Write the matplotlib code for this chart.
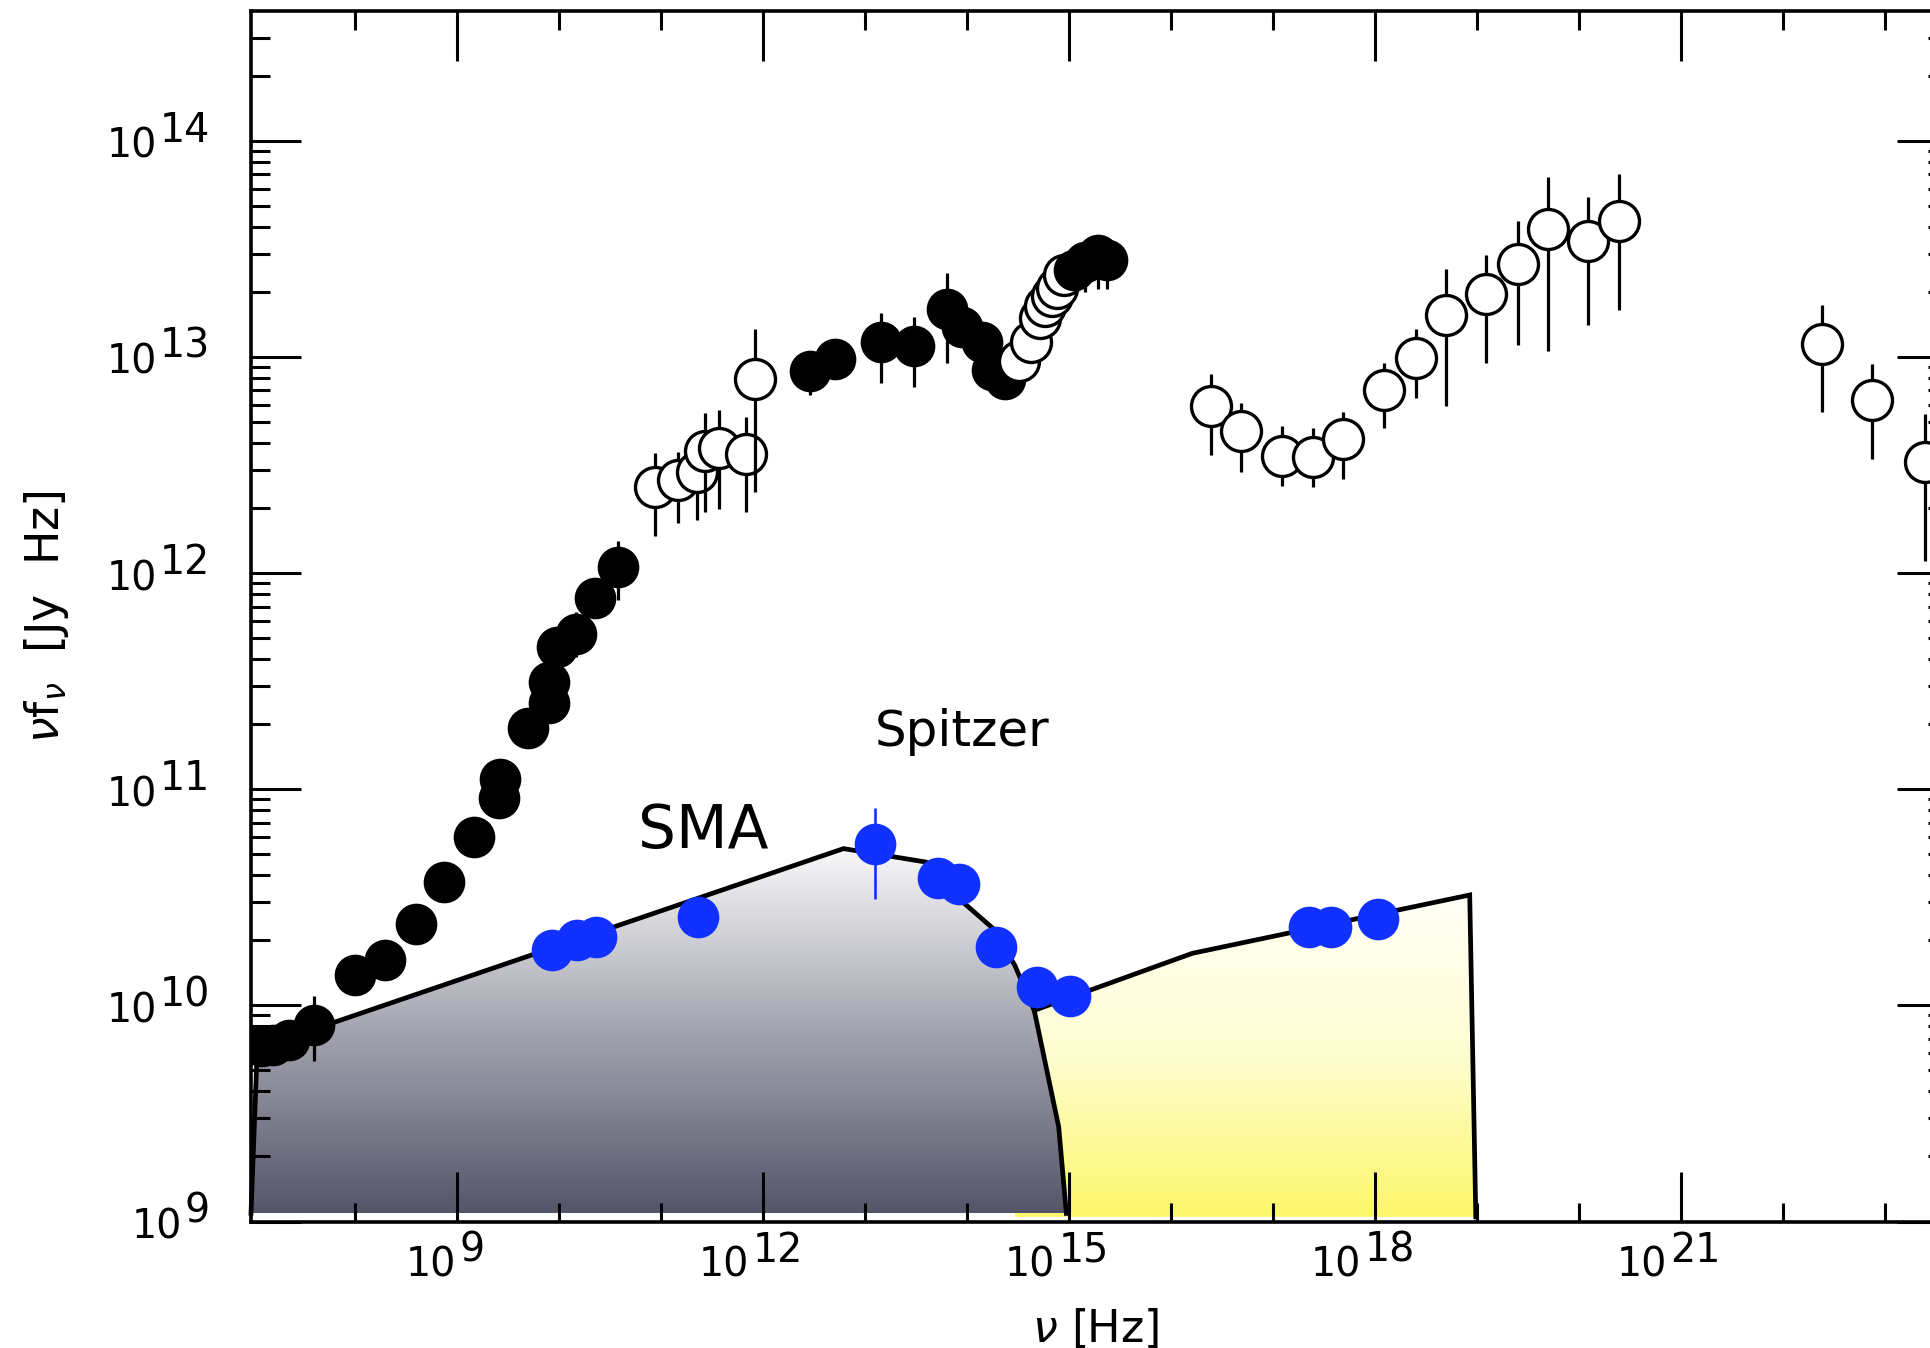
import numpy as np
import matplotlib
matplotlib.use("Agg")
import matplotlib.pyplot as plt
from matplotlib.patches import Polygon
from matplotlib.colors import LinearSegmentedColormap
from matplotlib.ticker import FixedLocator, NullFormatter, LogLocator

nan = np.nan

# ---------------- data (nu [Hz], nu f_nu [Jy Hz]) ----------------
radio_nu = [1.23e7, 1.58e7, 2.24e7, 3.98e7, 1.0e8, 1.95e8, 3.98e8, 7.41e8, 1.48e9,
            2.57e9, 2.63e9, 5.01e9, 8.04e9, 7.94e9, 9.55e9, 1.48e10, 2.24e10, 3.76e10]
radio_f = [6.46e9, 6.55e9, 6.92e9, 8.13e9, 1.38e10, 1.62e10, 2.37e10, 3.72e10, 6.03e10,
           9.12e10, 1.12e11, 1.91e11, 2.51e11, 3.13e11, 4.57e11, 5.25e11, 7.67e11, 1.07e12]
radio_lo = [nan, nan, nan, 5.52e9, nan, nan, nan, nan, nan,
            nan, nan, nan, nan, nan, nan, 4.07e11, nan, 7.53e11]
radio_hi = [nan, nan, nan, 1.11e10, nan, nan, nan, nan, nan,
            nan, nan, nan, nan, nan, nan, 6.6e11, nan, 1.40e12]

fir_nu = [8.81e10, 1.48e11, 2.24e11, 2.69e11, 3.67e11, 6.76e11, 8.41e11]
fir_f = [2.51e12, 2.69e12, 2.92e12, 3.67e12, 3.80e12, 3.55e12, 7.87e12]
fir_lo = [1.49e12, 1.71e12, 1.75e12, 1.91e12, 1.98e12, 1.91e12, 2.38e12]
fir_hi = [3.60e12, 3.63e12, 3.52e12, 5.50e12, 5.69e12, 5.25e12, 1.35e13]

mir_nu = [2.88e12, 5.13e12, 1.45e13, 3.02e13, 6.31e13, 8.91e13, 1.41e14, 1.76e14, 2.37e14]
mir_f = [8.61e12, 9.77e12, 1.175e13, 1.12e13, 1.66e13, 1.38e13, 1.175e13, 8.71e12, 7.94e12]
mir_lo = [6.68e12, nan, 7.59e12, 7.24e12, 9.33e12, nan, nan, nan, nan]
mir_hi = [1.0e13, nan, 1.60e13, 1.53e13, 2.45e13, nan, nan, nan, nan]

opt_nu = [3.24e14, 4.27e14, 5.25e14, 5.89e14, 6.76e14, 7.59e14, 8.91e14]
opt_f = [9.55e12, 1.175e13, 1.51e13, 1.72e13, 1.91e13, 2.09e13, 2.40e13]
opt_lo = [nan] * 7
opt_hi = [nan] * 7

uv_nu = [1.11e15, 1.45e15, 1.95e15, 2.34e15]
uv_f = [2.51e13, 2.75e13, 2.95e13, 2.82e13]
uv_lo = [2.03e13, 2.0e13, 2.05e13, 2.05e13]
uv_hi = [3.1e13, 3.4e13, 3.6e13, 3.4e13]

xray_nu = [2.45e16, 4.90e16, 1.23e17, 2.45e17, 4.90e17, 1.23e18, 2.51e18, 5.01e18,
           1.23e19, 2.51e19, 5.01e19, 1.24e20, 2.48e20]
xray_f = [5.93e12, 4.55e12, 3.48e12, 3.44e12, 4.17e12, 7.02e12, 9.91e12, 1.57e13,
          1.95e13, 2.69e13, 3.89e13, 3.43e13, 4.27e13]
xray_lo = [3.52e12, 2.92e12, 2.54e12, 2.49e12, 2.73e12, 4.68e12, 6.46e12, 5.93e12,
           9.40e12, 1.13e13, 1.07e13, 1.40e13, 1.65e13]
xray_hi = [8.32e12, 6.14e12, 4.79e12, 4.70e12, 5.58e12, 9.40e12, 1.34e13, 2.54e13,
           2.95e13, 4.25e13, 6.78e13, 5.50e13, 6.98e13]

gamma_nu = [2.45e22, 7.41e22, 2.48e23]
gamma_f = [1.15e13, 6.31e12, 3.28e12]
gamma_lo = [5.58e12, 3.37e12, 1.14e12]
gamma_hi = [1.73e13, 9.25e12, 5.43e12]

blue_nu = [8.51e9, 1.51e10, 2.29e10, 2.29e11, 1.26e13, 5.25e13, 8.32e13, 1.91e14,
           4.90e14, 1.02e15, 2.24e17, 3.72e17, 1.07e18]
blue_f = [1.80e10, 2.00e10, 2.07e10, 2.57e10, 5.60e10, 3.89e10, 3.66e10, 1.86e10,
          1.22e10, 1.10e10, 2.31e10, 2.31e10, 2.51e10]
blue_lo = [nan, nan, nan, nan, 3.09e10, nan, nan, nan, nan, nan, nan, nan, nan]
blue_hi = [nan, nan, nan, nan, 8.22e10, nan, nan, nan, nan, nan, nan, nan, nan]

# model SED envelopes (outline vertices)
gray_nu = [9.55e6, 1.10e7, 6.17e12, 3.98e13, 8.71e13, 1.82e14, 2.95e14, 4.57e14, 7.94e14, 9.44e14]
gray_f = [1.09e9, 6.31e9, 5.31e10, 4.60e10, 3.06e10, 2.26e10, 1.53e10, 9.48e9, 2.74e9, 1.09e9]
yellow_nu = [2.95e14, 4.57e14, 1.62e16, 8.51e18, 9.77e18]
yellow_f = [1.05e9, 9.48e9, 1.74e10, 3.24e10, 1.05e9]

# ticks
xmajor_vals = [1e9, 1e12, 1e15, 1e18, 1e21]
xmajor_exps = ["9", "12", "15", "18", "21"]
xminor_vals = [1e8, 1e10, 1e11, 1e13, 1e14, 1e16, 1e17, 1e19, 1e20, 1e22, 1e23]
ymajor_vals = [1e9, 1e10, 1e11, 1e12, 1e13, 1e14]
ymajor_exps = ["9", "10", "11", "12", "13", "14"]

annotations = [("SMA", 5.96e10, 5.32e10, 43), ("Spitzer", 1.26e13, 1.58e11, 36)]

# ---------------- figure ----------------
FONT = "DejaVu Sans"
plt.rcParams["font.family"] = [FONT]
plt.rcParams["mathtext.fontset"] = "dejavusans"

W, H, DPI = 1931, 1348, 100
fig = plt.figure(figsize=(W / DPI, H / DPI), dpi=DPI)
ax = fig.add_axes([251 / W, 1 - 1221.5 / H, (1947 - 251) / W, (1221.5 - 11) / H])
ax.set_xscale("log")
ax.set_yscale("log")
ax.set_xlim(10 ** 6.98, 10 ** 23.61)
ax.set_ylim(1e9, 10 ** 14.6)
ax.set_autoscale_on(False)

for s in ax.spines.values():
    s.set_linewidth(2.6)

ax.xaxis.set_major_locator(FixedLocator(xmajor_vals))
ax.xaxis.set_minor_locator(FixedLocator(xminor_vals))
ax.yaxis.set_major_locator(FixedLocator(ymajor_vals))
ax.yaxis.set_minor_locator(LogLocator(base=10, subs=np.arange(2, 10), numticks=50))
for a in (ax.xaxis, ax.yaxis):
    a.set_major_formatter(NullFormatter())
    a.set_minor_formatter(NullFormatter())
ax.tick_params(which="both", direction="in", top=True, right=True,
               labelbottom=False, labelleft=False, width=2.2, color="k")
ax.tick_params(which="major", length=36)
ax.tick_params(which="minor", length=13.5)


def gradient_fill(nu, f, colors, z):
    verts = np.column_stack([nu, f])
    poly = Polygon(verts, closed=True, facecolor="none", edgecolor="none",
                   transform=ax.transData, zorder=z)
    ax.add_patch(poly)
    pts = ax.transAxes.inverted().transform(ax.transData.transform(verts))
    x0, y0 = pts.min(axis=0)
    x1, y1 = pts.max(axis=0)
    cmap = LinearSegmentedColormap.from_list("g", colors)
    grad = np.linspace(0, 1, 256).reshape(-1, 1)
    im = ax.imshow(grad, cmap=cmap, aspect="auto", origin="lower",
                   extent=[x0, x1, y0, y1], transform=ax.transAxes,
                   zorder=z, interpolation="bilinear")
    im.set_clip_path(poly)


gradient_fill(yellow_nu, yellow_f, ["#fcf76a", "#fefdd0", "#fffff6"], 1.0)
gradient_fill(gray_nu, gray_f, ["#55556a", "#a4a4b0", "#f8f8f9"], 1.1)
ax.plot(yellow_nu[1:], yellow_f[1:], color="k", lw=3.4, zorder=2, solid_joinstyle="miter")
ax.plot(gray_nu, gray_f, color="k", lw=3.4, zorder=2.1, clip_on=False, solid_joinstyle="miter")

# data points, drawn in frequency order (error bar then marker)
groups = [
    (radio_nu, radio_f, radio_lo, radio_hi, "filled"),
    (fir_nu, fir_f, fir_lo, fir_hi, "open"),
    (mir_nu, mir_f, mir_lo, mir_hi, "filled"),
    (opt_nu, opt_f, opt_lo, opt_hi, "open"),
    (uv_nu, uv_f, uv_lo, uv_hi, "filled"),
    (xray_nu, xray_f, xray_lo, xray_hi, "open"),
    (gamma_nu, gamma_f, gamma_lo, gamma_hi, "open"),
]
k = 0
for nu, f, lo, hi, kind in groups:
    for i in range(len(nu)):
        z = 3 + 0.001 * k
        if not np.isnan(lo[i]):
            ax.vlines(nu[i], lo[i], hi[i], colors="k", lw=2.3, zorder=z)
        if kind == "filled":
            ax.plot([nu[i]], [f[i]], "o", ms=30, mfc="k", mec="k", mew=0, zorder=z + 0.0005)
        else:
            ax.plot([nu[i]], [f[i]], "o", ms=28.8, mfc="white", mec="k", mew=2.4, zorder=z + 0.0005)
        k += 1

BLUE = "#1031ff"
ax.vlines(blue_nu, blue_lo, blue_hi, colors=BLUE, lw=1.9, zorder=5)
ax.plot(blue_nu, blue_f, "o", ms=30, mfc=BLUE, mec=BLUE, mew=0, ls="none", zorder=5.1)

for txt, x, y, fs in annotations:
    ax.text(x, y, txt, fontsize=fs, ha="left", va="baseline", zorder=6)

# tick labels: "10" with full-size raised exponent
fig.canvas.draw()
renderer = fig.canvas.get_renderer()
TICK_FS = 28.5


def power_label(which, val, exp):
    if which == "x":
        tr, xy = ax.get_xaxis_transform(), (val, 0)
    else:
        tr, xy = ax.get_yaxis_transform(), (0, val)
    kw = dict(xy=xy, xycoords=tr, textcoords="offset pixels", fontsize=TICK_FS,
              va="baseline", ha="left", annotation_clip=False)
    b = ax.annotate("10", xytext=(0, 0), **kw)
    s = ax.annotate(exp, xytext=(0, 0), **kw)
    wb = b.get_window_extent(renderer).width
    ws = s.get_window_extent(renderer).width
    gap = 3
    if which == "x":
        left = -12 - (wb + gap + ws) / 2
        b.xyann = (left, -55)
        s.xyann = (left + wb + gap, -40.5)
    else:
        right = -41
        s.xyann = (right - ws, -1)
        b.xyann = (right - ws - gap - wb, -17)


for v, e in zip(xmajor_vals, xmajor_exps):
    power_label("x", v, e)
for v, e in zip(ymajor_vals, ymajor_exps):
    power_label("y", v, e)

fig.text(1096 / W, 1 - 1341.7 / H, r"$\nu$ [Hz]", fontsize=32, ha="center", va="baseline")
fig.text(59.3 / W, 1 - 616.5 / H, r"$\nu$f$_{\nu}$  [Jy  Hz]", fontsize=33, rotation=90,
         rotation_mode="anchor", ha="center", va="baseline")

fig.savefig("out.png", dpi=DPI)
